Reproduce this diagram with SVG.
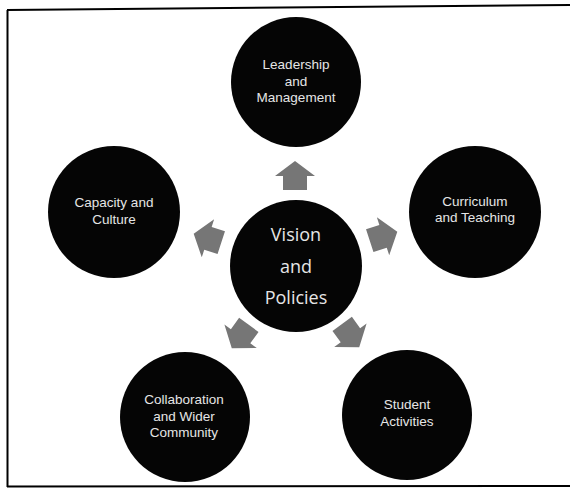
<svg xmlns="http://www.w3.org/2000/svg" width="570" height="489" viewBox="0 0 570 489">
<defs>
<style>
.node{fill:#050505}
.lbl{font-family:"Liberation Sans",Arial,sans-serif;font-size:13.5px;fill:#e6e6e6;text-anchor:middle}
.big{font-family:"Open Sans","Liberation Sans",sans-serif;font-size:18px}
.arr{fill:#767676}
.frame{stroke:#000;stroke-width:2;fill:none}
</style>
<path id="arrowShape" d="M-15,-12 L-1,-12 L-1,-20 L14,0 L-1,20 L-1,12 L-15,12 Z"/>
</defs>
<rect width="570" height="489" fill="#fff"/>
<g id="frame">
<line class="frame" x1="7.5" y1="10" x2="7.5" y2="487"/>
<line class="frame" x1="7" y1="10" x2="570" y2="5"/>
<line class="frame" x1="7" y1="486.5" x2="570" y2="486"/>
</g>
<g id="connectors">
<use href="#arrowShape" class="arr" transform="translate(295,175) rotate(-90)"/>
<use href="#arrowShape" class="arr" transform="translate(384,236) rotate(-18)"/>
<use href="#arrowShape" class="arr" transform="translate(351,336) rotate(54)"/>
<use href="#arrowShape" class="arr" transform="translate(240,337) rotate(126)"/>
<use href="#arrowShape" class="arr" transform="translate(207,238) rotate(198)"/>
</g>
<g id="vision">
<circle class="node" cx="296" cy="266" r="66"/>
<text class="lbl big" x="296" y="241">Vision</text>
<text class="lbl big" x="296" y="273">and</text>
<text class="lbl big" x="296" y="304">Policies</text>
</g>
<g id="leadership">
<circle class="node" cx="296" cy="82" r="65"/>
<text class="lbl" x="296" y="69">Leadership</text>
<text class="lbl" x="296" y="86">and</text>
<text class="lbl" x="296" y="102">Management</text>
</g>
<g id="curriculum">
<circle class="node" cx="475" cy="212" r="66"/>
<text class="lbl" x="475" y="206">Curriculum</text>
<text class="lbl" x="475" y="222">and Teaching</text>
</g>
<g id="student">
<circle class="node" cx="407" cy="415" r="65"/>
<text class="lbl" x="407" y="409">Student</text>
<text class="lbl" x="407" y="426">Activities</text>
</g>
<g id="collaboration">
<circle class="node" cx="185" cy="417" r="65"/>
<text class="lbl" x="184" y="404">Collaboration</text>
<text class="lbl" x="184" y="421">and Wider</text>
<text class="lbl" x="184" y="437">Community</text>
</g>
<g id="capacity">
<circle class="node" cx="114" cy="212" r="66"/>
<text class="lbl" x="114" y="207">Capacity and</text>
<text class="lbl" x="114" y="224">Culture</text>
</g>
</svg>
